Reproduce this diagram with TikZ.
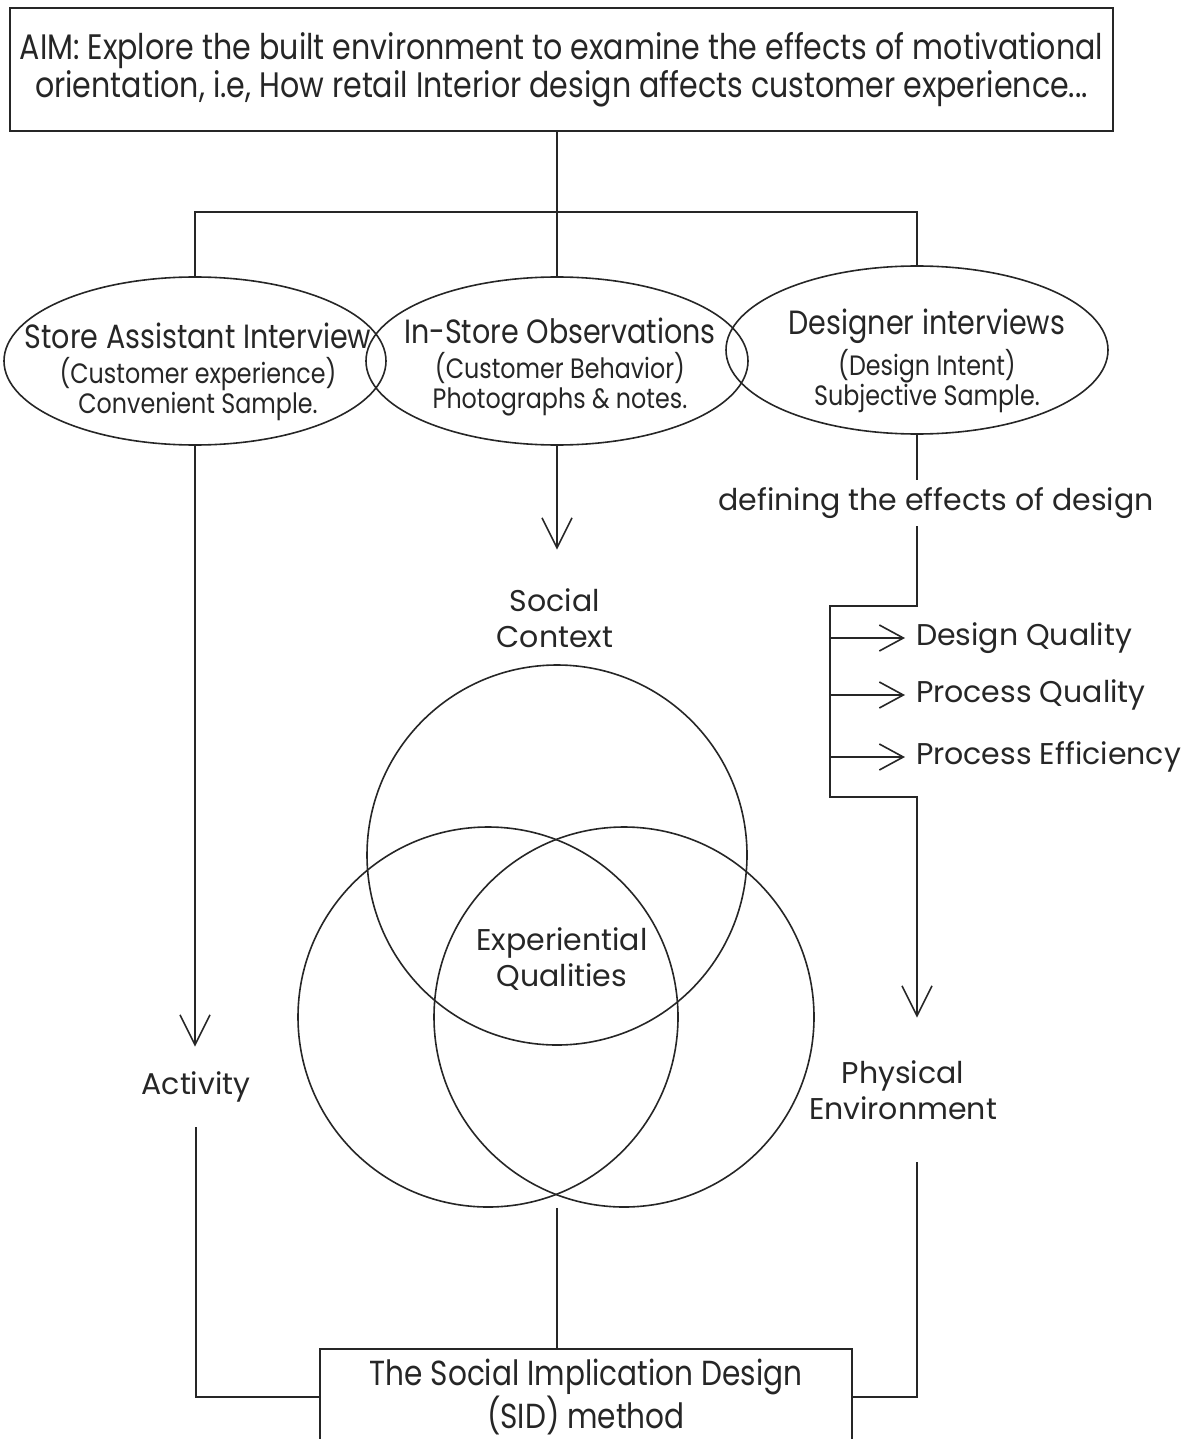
\documentclass[tikz,border=0pt]{standalone}
\usepackage{fontspec}
\setmainfont{Poppins}
\newfontfamily\narrowfont[FakeStretch=0.85]{Poppins}
\newcommand\ovalhead{\narrowfont\fontsize{16.8}{17.5}\selectfont}
\usetikzlibrary{arrows.meta,shapes.geometric}
\begin{document}
\begin{tikzpicture}[x=0.5pt,y=-0.5pt,
  ink/.style={draw=black!85, line width=0.8pt},
  arr/.style={ink, -{Straight Barb[length=15pt,width=15pt]}},
  brarr/.style={ink, -{Straight Barb[length=12pt,width=13pt]}},
  oval/.style={ellipse, ink, minimum width=191pt, minimum height=84pt, inner sep=0pt},
  ring/.style={circle, ink, minimum size=190pt, inner sep=0pt},
  lbl/.style={text=black!85, font=\fontsize{15}{18}\selectfont, align=center, inner sep=0pt},
  ovaltxt/.style={text=black!85, font=\narrowfont\fontsize{14}{15}\selectfont, align=center, inner sep=0pt},
  branch/.style={lbl, anchor=west, outer xsep=5.5pt},
]
\useasboundingbox (0,0) rectangle (1189,1439);

% aim box
\node[ink, text=black!85, minimum width=551.5pt, minimum height=61.5pt, inner sep=0pt,
      font=\narrowfont\fontsize{17.7}{19}\selectfont, align=center] (aim) at (561.5,69.5)
  {AIM: Explore the built environment to examine the effects of motivational\\
   orientation, i.e, How retail Interior design affects customer experience...};

% three methods
\node[oval] (sa) at (195,361) {};
\node[oval] (obs) at (557,361) {};
\node[oval] (di) at (917,350) {};
\node[ovaltxt] (satxt) at (198,372) {{\ovalhead Store Assistant Interview}\\[2.5pt](Customer experience)\\Convenient Sample.};
\node[ovaltxt] (obstxt) at (560,367) {{\ovalhead In-Store Observations}\\[2.5pt](Customer Behavior)\\Photographs \& notes.};
\node[ovaltxt] (ditxt) at (927,361) {{\ovalhead Designer interviews}\\[2pt](Design Intent)\\Subjective Sample.};

\coordinate (busL) at (195,212);
\coordinate (busR) at (917,212);
\draw[ink] (aim.south -| obs.north) -- (obs.north);
\draw[ink] (sa.north) -- (busL) -- (busR) -- (di.north);

% outcome labels
\node[lbl, minimum height=40pt] (act) at (196,1087) {Activity};
\node[lbl, minimum height=68pt] (sc) at (555,618) {Social\\Context};
\node[lbl, minimum height=72pt] (pe) at (903,1090) {Physical\\Environment};
\node[lbl, minimum height=23pt] (def) at (936,503) {defining the effects of design};

\draw[arr] (sa.south) -- (sa.south |- act.north);
\draw[arr] (obs.south) -- (obs.south |- sc.north);

% design effects branch
\coordinate (bk1) at (917,606);
\coordinate (bk2) at (830,606);
\coordinate (bk3) at (830,797);
\coordinate (bk4) at (917,797);
\draw[ink] (di.south) -- (di.south |- def.north);
\draw[arr] (di.south |- def.south) -- (bk1) -- (bk2) -- (bk3) -- (bk4) -- (bk4 |- pe.north);

\node[branch] (dq) at (905,638) {Design Quality};
\node[branch] (pq) at (905,695) {Process Quality};
\node[branch] (pf) at (905,757) {Process Efficiency};
\draw[brarr] (bk2 |- dq.west) -- (dq.west);
\draw[brarr] (bk2 |- pq.west) -- (pq.west);
\draw[brarr] (bk2 |- pf.west) -- (pf.west);

% venn diagram
\node[ring] (vt) at (557,855) {};
\node[ring] (vl) at (488,1017) {};
\node[ring] (vr) at (624,1017) {};
\node[lbl] (eq) at (562,959) {Experiential\\Qualities};

% method box
\node[ink, text=black!85, minimum width=266pt, minimum height=48pt, inner sep=0pt,
      font=\narrowfont\fontsize{17.4}{18}\selectfont, align=center] (sid) at (586,1397)
  {The Social Implication Design\\(SID) method};

\draw[ink] (vl.south -| vt.south) -- (vt.south |- sid.north);
\draw[ink] (act.south) |- (sid.west);
\draw[ink] (bk4 |- pe.south) |- (sid.east);
\end{tikzpicture}
\end{document}
